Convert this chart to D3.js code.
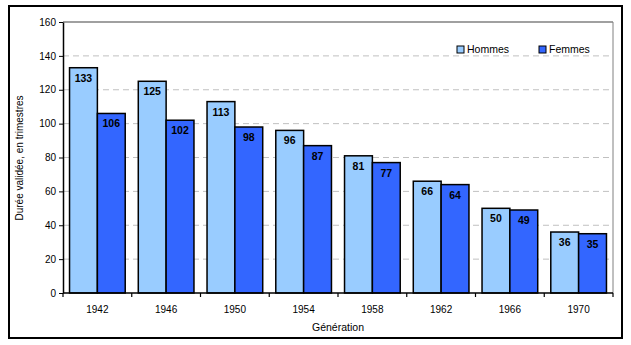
<!DOCTYPE html>
<html><head><meta charset="utf-8">
<script src="https://cdn.jsdelivr.net/npm/d3@7"></script>
<style>body{margin:0;background:#fff;} svg{display:block;font-family:"Liberation Sans",Arial,sans-serif;}</style>
</head><body><svg id="c" width="631" height="345"></svg>
<script>
const generations = ["1942","1946","1950","1954","1958","1962","1966","1970"];
const hommes = [133,125,113,96,81,66,50,36];
const femmes = [106,102,98,87,77,64,49,35];
const seriesNames = ["Hommes","Femmes"];
const seriesColors = ["#99CCFF","#3366FF"];
const yTicks = [0,20,40,60,80,100,120,140,160];

const svg = d3.select("#c");
const m = {l:63, r:613, t:22, b:293};
svg.append("rect").attr("x",9).attr("y",6).attr("width",613).attr("height",332)
  .attr("fill","#fff").attr("stroke","#000").attr("stroke-width",2);

const x = d3.scaleBand().domain(generations).range([m.l,m.r]).paddingInner(0.19).paddingOuter(0.095);
const xs = d3.scaleBand().domain(seriesNames).range([0,x.bandwidth()]);
const y = d3.scaleLinear().domain([0,160]).range([m.b,m.t]);

// gridlines
svg.append("g").selectAll("line").data(yTicks.filter(d=>d>0)).join("line")
  .attr("x1",m.l).attr("x2",m.r).attr("y1",d=>y(d)).attr("y2",d=>y(d))
  .attr("stroke",d=>d===160?"#808080":"#C0C0C0")
  .attr("stroke-width",d=>d===160?1.5:1)
  .attr("stroke-dasharray",d=>d===160?null:"6,4");
svg.append("line").attr("x1",m.r).attr("x2",m.r).attr("y1",m.t).attr("y2",m.b).attr("stroke","#808080");

const data = generations.map((g,i)=>({g, vals:[hommes[i],femmes[i]]}));
const grp = svg.append("g").selectAll("g").data(data).join("g").attr("transform",d=>`translate(${x(d.g)},0)`);
grp.selectAll("rect").data(d=>d.vals.map((v,j)=>({v,s:seriesNames[j],j}))).join("rect")
  .attr("x",d=>xs(d.s)).attr("width",xs.bandwidth()).attr("y",d=>y(d.v)).attr("height",d=>y(0)-y(d.v))
  .attr("fill",d=>seriesColors[d.j]).attr("stroke","#000").attr("stroke-width",1.5);
grp.selectAll("text").data(d=>d.vals.map((v,j)=>({v,s:seriesNames[j],j}))).join("text")
  .attr("x",d=>xs(d.s)+xs.bandwidth()/2).attr("y",d=>y(d.v)+14)
  .attr("text-anchor","middle").attr("font-size","10.5px").attr("font-weight","bold").attr("fill","#000")
  .text(d=>d.v);

// y axis
const ya = svg.append("g").attr("transform",`translate(${m.l},0)`).call(d3.axisLeft(y).tickValues(yTicks).tickSize(4).tickSizeOuter(0));
ya.select(".domain").attr("stroke","#000").attr("stroke-width",1.5);
ya.selectAll("text").attr("font-size","10px").attr("fill","#000").attr("font-family","Liberation Sans, Arial");
// x axis
const xa = svg.append("g").attr("transform",`translate(0,${m.b})`);
xa.append("line").attr("x1",m.l).attr("x2",m.r).attr("y1",0).attr("y2",0).attr("stroke","#000").attr("stroke-width",1.5);
const bounds = generations.map(g=>x(g)-x.step()*x.paddingInner()/2).concat([m.r]);
xa.selectAll("line.t").data(bounds).join("line").attr("class","t")
  .attr("x1",d=>d).attr("x2",d=>d).attr("y1",0).attr("y2",4).attr("stroke","#000").attr("stroke-width",1.2);
xa.selectAll("text").data(generations).join("text")
  .attr("x",d=>x(d)+x.bandwidth()/2).attr("y",20).attr("text-anchor","middle")
  .attr("font-size","10px").attr("fill","#000").text(d=>d);

svg.append("text").attr("x",338).attr("y",331).attr("text-anchor","middle").attr("font-size","10.5px").text("Génération");
svg.append("text").attr("transform","translate(23,158) rotate(-90)").attr("text-anchor","middle")
  .attr("font-size","10px").text("Durée validée, en trimestres");

// legend
const lg = svg.append("g").selectAll("g").data(seriesNames).join("g")
  .attr("transform",(d,i)=>`translate(${457+i*82},46)`);
lg.append("rect").attr("width",7).attr("height",7).attr("fill",(d,i)=>seriesColors[i]).attr("stroke","#000");
lg.append("text").attr("x",10).attr("y",7).attr("font-size","10.5px").text(d=>d);
</script></body></html>
